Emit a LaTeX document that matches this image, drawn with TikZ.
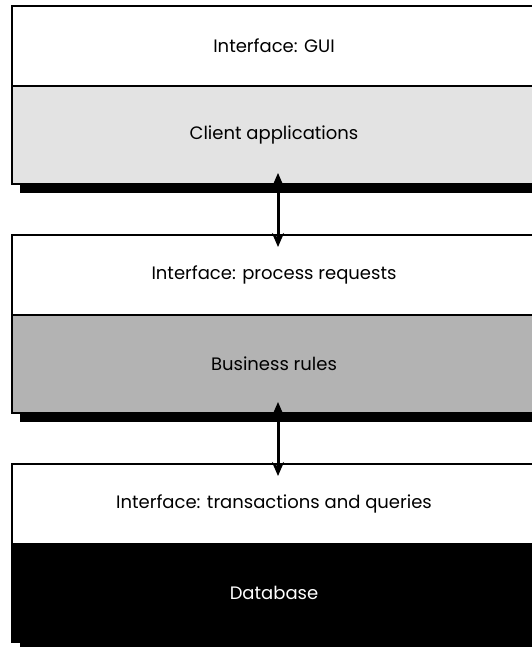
\documentclass[tikz,border=0pt]{standalone}
\usepackage{fontspec}
\setmainfont{Poppins}
\definecolor{tierlight}{RGB}{227,227,227}
\definecolor{tiermid}{RGB}{179,179,179}
\usetikzlibrary{arrows.meta,positioning,calc}

\begin{document}
\begin{tikzpicture}[x=1pt,y=-1pt,
  tierface/.style={draw=black,line width=2pt,fill=white,minimum width=524pt,minimum height=80pt,
    inner sep=0pt,outer sep=0pt,font=\fontsize{18}{21}\selectfont},
  tierbody/.style={tierface,minimum height=98pt},
  tierlink/.style={{Stealth[length=14pt,width=12pt]}-{Stealth[length=14pt,width=12pt]},
    line width=3pt,shorten <=-11pt,shorten >=-12pt}
]
  \useasboundingbox (0,0) rectangle (531,647);

  % Presentation tier
  \node[tierface] (gui) at (274,46) {Interface: GUI};
  \node[tierbody,fill=tierlight,below=0pt of gui] (client) {Client applications};
  \fill ([xshift=8pt]client.south west) rectangle ([shift={(8pt,-9pt)}]client.south east);

  % Logic tier
  \node[tierface] (procif) at (274,275) {Interface: process requests};
  \node[tierbody,fill=tiermid,below=0pt of procif] (rules) {Business rules};
  \fill ([xshift=8pt]rules.south west) rectangle ([shift={(8pt,-9pt)}]rules.south east);

  % Data tier
  \node[tierface] (queryif) at (274,504) {Interface: transactions and queries};
  \node[tierbody,fill=black,text=white,below=0pt of queryif] (db) {Database};
  \fill ([xshift=8pt]db.south west) rectangle ([shift={(8pt,-9pt)}]db.south east);

  % Links between tiers
  \draw[tierlink] ([xshift=4pt]client.south) -- ([xshift=4pt]procif.north);
  \draw[tierlink] ([xshift=4pt]rules.south) -- ([xshift=4pt]queryif.north);
\end{tikzpicture}
\end{document}
